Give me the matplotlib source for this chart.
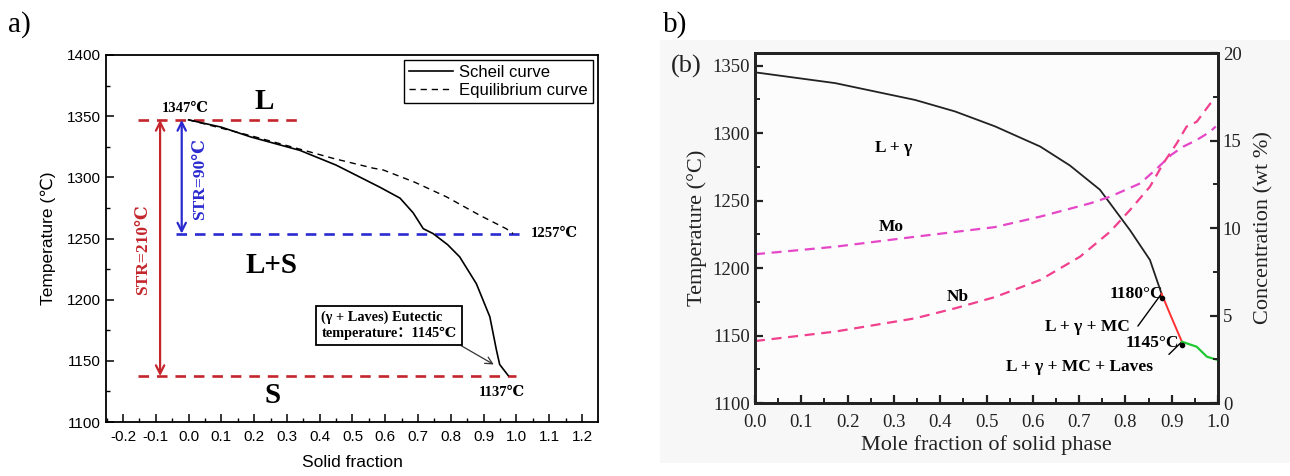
import matplotlib
matplotlib.use("Agg")
import matplotlib.pyplot as plt
from matplotlib.ticker import MultipleLocator
from matplotlib.patches import Rectangle

# ---------------- data: panel a ----------------
scheil_fs = [0.0, 0.1, 0.19, 0.34, 0.45, 0.583, 0.645, 0.685, 0.716, 0.746, 0.79, 0.827, 0.878, 0.919, 0.939, 0.949, 0.975]
scheil_T = [1347, 1341, 1333, 1322, 1310, 1292, 1283, 1271, 1258, 1254, 1245, 1235, 1213, 1186, 1159, 1147, 1138]
equil_fs = [0.0, 0.19, 0.34, 0.441, 0.563, 0.594, 0.69, 0.787, 0.888, 0.969, 0.99]
equil_T = [1347, 1334, 1323, 1315.5, 1307.5, 1306, 1296, 1284, 1269, 1258, 1254]
liquidus_T = 1347
solidus_T = 1137.5
equil_solidus_T = 1254
liq_line_x = [-0.153, 0.334]
sol_line_x = [-0.153, 1.0]
blue_line_x = [-0.038, 1.015]
red_arrow_x = -0.087
blue_arrow_x = -0.021
eutectic_point = (0.931, 1147)

# ---------------- data: panel b ----------------
b_fs = [0.0, 0.173, 0.346, 0.432, 0.518, 0.616, 0.68, 0.745, 0.81, 0.853, 0.878]
b_T = [1345, 1337, 1324.5, 1316, 1305, 1290, 1276, 1258, 1228, 1206, 1181]
mc_fs = [0.878, 0.90, 0.922]
mc_T = [1181, 1163, 1145.4]
laves_fs = [0.922, 0.954, 0.976, 1.0]
laves_T = [1145.4, 1141.7, 1134.3, 1131.8]
mo_fs = [0.0, 0.173, 0.346, 0.518, 0.616, 0.724, 0.767, 0.832, 0.868, 0.9, 0.925, 0.954, 0.983, 0.995]
mo_c = [8.5, 8.93, 9.5, 10.05, 10.65, 11.41, 11.79, 12.55, 13.4, 14.2, 14.65, 15.03, 15.5, 15.8]
nb_fs = [0.0, 0.173, 0.346, 0.432, 0.518, 0.616, 0.702, 0.767, 0.81, 0.853, 0.882, 0.911, 0.932, 0.954, 0.983, 0.995]
nb_c = [3.54, 4.08, 4.84, 5.41, 6.05, 7.03, 8.36, 9.79, 11.03, 12.36, 13.7, 14.84, 15.79, 16.07, 17.1, 17.3]
point_1180 = (0.878, 1181)
point_1145 = (0.922, 1145.4)

W, H = 1290, 476
fig = plt.figure(figsize=(W / 100, H / 100), dpi=100)

SANS = ['Liberation Sans', 'DejaVu Sans']
SERIF = ['Liberation Serif', 'DejaVu Serif', 'Noto Sans CJK SC']

# ======================= panel a =======================
ax = fig.add_axes([106 / W, 1 - 422 / H, (598 - 106) / W, (422 - 55) / H])
ax.set_xlim(-0.252, 1.249)
ax.set_ylim(1100, 1400)
red = '#c4262c'
blue = '#2a2ad0'
ax.plot(scheil_fs, scheil_T, color='black', lw=1.2, label='Scheil curve', zorder=4)
ax.plot(equil_fs, equil_T, color='black', lw=1.0, ls=(0, (4.5, 3.5)), label='Equilibrium curve', zorder=4)
ax.plot(liq_line_x, [liquidus_T, liquidus_T], color=red, lw=1.9, ls=(0, (4, 3)))
ax.plot(sol_line_x, [solidus_T, solidus_T], color=red, lw=1.9, ls=(0, (4, 3)))
ax.plot(blue_line_x, [equil_solidus_T, equil_solidus_T], color=blue, lw=1.9, ls=(0, (4, 3)))
ax.annotate('', xy=(red_arrow_x, solidus_T), xytext=(red_arrow_x, liquidus_T),
            arrowprops=dict(arrowstyle='<->,head_length=0.6,head_width=0.3', color=red, lw=1.6,
                            shrinkA=0, shrinkB=0))
ax.annotate('', xy=(blue_arrow_x, equil_solidus_T), xytext=(blue_arrow_x, liquidus_T),
            arrowprops=dict(arrowstyle='<->,head_length=0.6,head_width=0.3', color=blue, lw=1.6,
                            shrinkA=0, shrinkB=0))
ax.text(-0.138, 1241, 'STR=210℃', rotation=90, color=red, family=SERIF, fontweight='bold',
        fontsize=12.5, ha='center', va='center')
ax.text(0.035, 1298.6, 'STR=90℃', rotation=90, color=blue, family=SERIF, fontweight='bold',
        fontsize=12.5, ha='center', va='center')
ax.text(-0.011, 1356.5, '1347℃', family=SERIF, fontweight='bold', fontsize=10.5, ha='center', va='center')
ax.text(0.23, 1362, 'L', family=SERIF, fontweight='bold', fontsize=21, ha='center', va='center')
ax.text(0.253, 1228.3, 'L+S', family=SERIF, fontweight='bold', fontsize=21, ha='center', va='center')
ax.text(0.255, 1122, 'S', family=SERIF, fontweight='bold', fontsize=21, ha='center', va='center')
ax.text(1.117, 1254, '1257℃', family=SERIF, fontweight='bold', fontsize=10.5, ha='center', va='center')
ax.text(0.955, 1124, '1137℃', family=SERIF, fontweight='bold', fontsize=10.5, ha='center', va='center')
ax.annotate('(γ + Laves) Eutectic\ntemperature：1145℃', xy=eutectic_point, xytext=(0.405, 1179),
            family=SERIF, fontweight='bold', fontsize=10.3, ha='left', va='center', linespacing=1.25,
            bbox=dict(boxstyle='square,pad=0.35', fc='white', ec='black', lw=1.3),
            arrowprops=dict(arrowstyle='->,head_length=0.5,head_width=0.25', color='#333333', lw=0.9,
                            shrinkA=0, shrinkB=0, relpos=(0.96, 0.0)))
ax.xaxis.set_major_locator(MultipleLocator(0.1))
ax.xaxis.set_minor_locator(MultipleLocator(0.05))
ax.yaxis.set_major_locator(MultipleLocator(50))
ax.yaxis.set_minor_locator(MultipleLocator(25))
ax.set_xticks([round(-0.2 + 0.1 * i, 1) for i in range(15)])
ax.set_xticklabels([f'{-0.2 + 0.1 * i:.1f}' for i in range(15)])
ax.tick_params(which='both', direction='in', top=False, right=False, labelsize=11)
ax.tick_params(which='major', length=6, width=1.1)
ax.tick_params(which='minor', length=3, width=1.0)
ax.tick_params(axis='x', pad=6)
for lab in ax.get_xticklabels() + ax.get_yticklabels():
    lab.set_family(SANS)
for s in ax.spines.values():
    s.set_linewidth(1.3)
ax.set_xlabel('Solid fraction', family=SANS, fontsize=12.5, labelpad=8)
ax.set_ylabel('Temperature (℃)', family=SANS, fontsize=12.5, labelpad=8)
leg = ax.legend(loc='upper right', prop={'family': SANS, 'size': 12}, frameon=True, fancybox=False,
                edgecolor='black', framealpha=1, borderaxespad=0.3, handlelength=2.6,
                labelspacing=0.2, borderpad=0.3, handletextpad=0.4)
leg.get_frame().set_linewidth(1.0)

fig.text(8 / W, 1 - 25 / H, 'a)', family=SERIF, fontsize=21, ha='left', va='center')
fig.text(663 / W, 1 - 25 / H, 'b)', family=SERIF, fontsize=21, ha='left', va='center')

# ======================= panel b =======================
fig.patches.append(Rectangle((660 / W, 1 - 463 / H), 630 / W, 423 / H, transform=fig.transFigure,
                             facecolor='#f7f7f7', edgecolor='none', zorder=-5))
bx = fig.add_axes([755 / W, 1 - 403 / H, 463 / W, 350 / H])
bx.set_facecolor('#fcfcfc')
bx.set_xlim(0, 1.0)
bx.set_ylim(1100, 1359.3)
bx.plot(b_fs, b_T, color='#222222', lw=1.3, zorder=4)
bx.plot(mc_fs, mc_T, color='#ff3030', lw=1.4, zorder=4)
bx.plot(laves_fs, laves_T, color='#22c832', lw=1.6, zorder=4)
bx2 = bx.twinx()
bx2.set_ylim(0, 20)
bx2.plot(mo_fs, mo_c, color='#e646c8', lw=1.6, ls=(0, (4.5, 3)))
bx2.plot(nb_fs, nb_c, color='#f0408e', lw=1.6, ls=(0, (4.5, 3)))

bfont = dict(family=SERIF, fontweight='bold', fontsize=12.5)
bx.text(0.30, 1288.7, 'L + γ', ha='center', va='center', **bfont)
bx.text(0.295, 1230.6, 'Mo', ha='center', va='center', **bfont)
bx.text(0.439, 1178.7, 'Nb', ha='center', va='center', **bfont)
bx.text(0.881, 1181, '1180°C', ha='right', va='center', **bfont)
bx.text(0.717, 1156.5, 'L + γ + MC', ha='center', va='center', **bfont)
bx.text(0.915, 1144.2, '1145°C', ha='right', va='center', **bfont)
bx.text(0.70, 1126.9, 'L + γ + MC + Laves', ha='center', va='center', **bfont)
bx.annotate('', xy=point_1180, xytext=(0.827, 1157),
            arrowprops=dict(arrowstyle='-', color='black', lw=1.0, shrinkA=0, shrinkB=0))
bx.annotate('', xy=point_1145, xytext=(0.894, 1136),
            arrowprops=dict(arrowstyle='-', color='black', lw=1.0, shrinkA=0, shrinkB=0))
bx.plot([point_1180[0], point_1145[0]], [point_1180[1] - 3, point_1145[1] - 2.5], 'o', color='black',
        ms=3, zorder=5)

bx.xaxis.set_major_locator(MultipleLocator(0.1))
bx.xaxis.set_minor_locator(MultipleLocator(0.05))
bx.yaxis.set_major_locator(MultipleLocator(50))
bx.yaxis.set_minor_locator(MultipleLocator(25))
bx2.yaxis.set_major_locator(MultipleLocator(5))
bx2.yaxis.set_minor_locator(MultipleLocator(2.5))
for a in (bx, bx2):
    a.tick_params(which='both', direction='in', top=False, labelsize=13.5, colors='#222222')
    a.tick_params(which='major', length=6, width=1.6)
    a.tick_params(which='minor', length=3.5, width=1.4)
    for s in a.spines.values():
        s.set_linewidth(2.0)
        s.set_color('#222222')
bx.tick_params(right=False)
bx.tick_params(axis='x', pad=8)
for lab in bx.get_xticklabels() + bx.get_yticklabels() + bx2.get_yticklabels():
    lab.set_family(SERIF)
bx.set_xlabel('Mole fraction of solid phase', family=SERIF, fontsize=16, labelpad=3, color='#222222')
bx.set_ylabel('Temperature (°C)', family=SERIF, fontsize=16, labelpad=4, color='#222222')
bx2.set_ylabel('Concentration (wt %)', family=SERIF, fontsize=16, labelpad=9, color='#222222')
fig.text(686 / W, 1 - 66 / H, '(b)', family=SERIF, fontsize=19, ha='center', va='center', color='#222222')

fig.savefig('out.png', dpi=100)
